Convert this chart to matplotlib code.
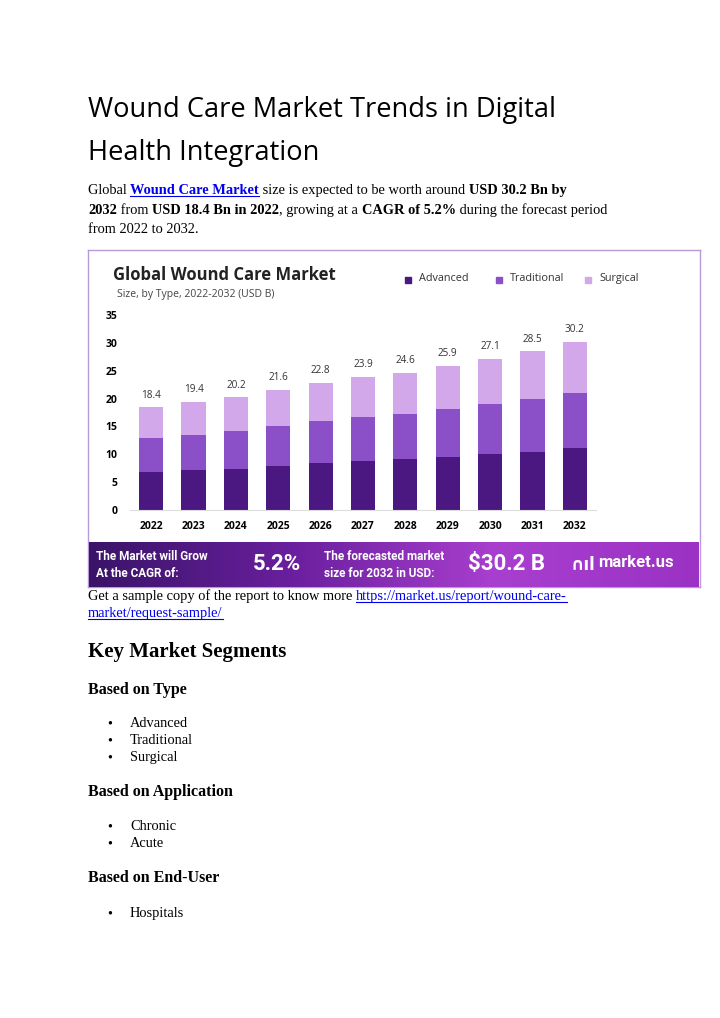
import numpy as np
import matplotlib
matplotlib.use("Agg")
import matplotlib.pyplot as plt
from matplotlib.colors import LinearSegmentedColormap

years = ["2022","2023","2024","2025","2026","2027","2028","2029","2030","2031","2032"]
totals = [18.4,19.4,20.2,21.6,22.8,23.9,24.6,25.9,27.1,28.5,30.2]
advanced = [6.75,7.2,7.4,7.95,8.4,8.8,9.1,9.55,10.0,10.5,11.2]
traditional = [6.1,6.35,6.75,7.1,7.5,7.9,8.1,8.55,8.95,9.4,9.85]
surgical = [t-a-b for t,a,b in zip(totals,advanced,traditional)]
series_names = ["Advanced","Traditional","Surgical"]
colors = ["#4b1780","#8b50c8","#d2a8ea"]
yticks = [0,5,10,15,20,25,30,35]

W, H = 720, 1018
fig = plt.figure(figsize=(W/100, H/100), dpi=100)
fig.patch.set_facecolor("white")

def px_axes(x0, y0, x1, y1):
    return fig.add_axes([x0/W, 1-y1/H, (x1-x0)/W, (y1-y0)/H])

renderer = fig.canvas.get_renderer()

def runs(x, y, parts, size=10.4, family="Liberation Serif"):
    cx = x
    for txt, st in parts:
        weight = "bold" if st in ("b", "blink") else "normal"
        col = "#0000ee" if "link" in st else "black"
        t = fig.text(cx/W, 1-y/H, txt, fontsize=size, family=family, weight=weight,
                     color=col, va="baseline", ha="left")
        bb = t.get_window_extent(renderer)
        if "link" in st:
            fig.add_artist(plt.Line2D([cx/W, (cx+bb.width)/W], [1-(y+2)/H]*2, color=col, lw=0.8))
        cx += bb.width

fig.text(88/W, 1-117/H, "Wound Care Market Trends in Digital", fontsize=19.6, family="Open Sans", va="baseline")
fig.text(88/W, 1-160/H, "Health Integration", fontsize=19.6, family="Open Sans", va="baseline")

runs(88, 194, [("Global ", ""), ("Wound Care Market", "blink"), (" size is expected to be worth around ", ""), ("USD 30.2 Bn by", "b")])
runs(88, 214, [("2032", "b"), (" from ", ""), ("USD 18.4 Bn in 2022", "b"), (", growing at a ", ""), ("CAGR of 5.2%", "b"), (" during the forecast period", "")])
runs(88, 233, [("from 2022 to 2032.", "")])

frame = px_axes(88, 250, 700, 587)
frame.set_xticks([]); frame.set_yticks([])
for s in frame.spines.values():
    s.set_color("#b79ad6"); s.set_linewidth(1)
frame.set_facecolor("white")

ban = px_axes(89, 542, 699, 587)
grad = np.linspace(0, 1, 256).reshape(1, -1)
cmap = LinearSegmentedColormap.from_list("g", ["#3a1468", "#6a1f9e", "#a93fcf", "#9b32c4"])
ban.imshow(grad, aspect="auto", cmap=cmap, extent=[0, 1, 0, 1])
ban.axis("off")
ban.text(0.012, 0.68, "The Market will Grow", color="white", fontsize=8.5, weight="bold", family="Roboto", va="center")
ban.text(0.012, 0.30, "At the CAGR of:", color="white", fontsize=8.5, weight="bold", family="Roboto", va="center")
ban.text(0.268, 0.50, "5.2%", color="white", fontsize=16, weight="bold", family="Roboto", va="center")
ban.text(0.385, 0.68, "The forecasted market", color="white", fontsize=8.5, weight="bold", family="Roboto", va="center")
ban.text(0.385, 0.30, "size for 2032 in USD:", color="white", fontsize=8.5, weight="bold", family="Roboto", va="center")
ban.text(0.622, 0.50, "$30.2 B", color="white", fontsize=16, weight="bold", family="Roboto", va="center")
ban.text(0.79, 0.50, "∩ıl", color="white", fontsize=12, weight="bold", family="DejaVu Sans", va="center")
ban.text(0.835, 0.55, "market.us", color="white", fontsize=12, weight="bold", family="Roboto", va="center")

fig.text(113/W, 1-280/H, "Global Wound Care Market", fontsize=12, weight="bold", family="Open Sans", color="#222222", va="baseline")
fig.text(117/W, 1-297/H, "Size, by Type, 2022-2032 (USD B)", fontsize=7.5, family="Open Sans", color="#444444", va="baseline")
for i, (nm, c) in enumerate(zip(series_names, colors)):
    lx = [405, 496, 585][i]
    fig.patches.append(plt.Rectangle((lx/W, 1-283/H), 6/W, 6/H, color=c, transform=fig.transFigure, figure=fig))
    fig.text((lx+14)/W, 1-284/H, nm, fontsize=7.8, family="Open Sans", color="#333333", va="bottom")

ax = px_axes(130, 315, 596, 510)
x = np.arange(len(years))
bw = 0.57
ax.bar(x, advanced, bw, color=colors[0])
ax.bar(x, traditional, bw, bottom=advanced, color=colors[1])
bot2 = [a+b for a, b in zip(advanced, traditional)]
ax.bar(x, surgical, bw, bottom=bot2, color=colors[2])
for xi, t in zip(x, totals):
    ax.text(xi, t+1.2, f"{t}", ha="center", va="bottom", fontsize=7.2, color="#333333", family="Open Sans")
ax.set_xlim(-0.5, 10.5)
ax.set_ylim(0, 35)
ax.set_yticks(yticks)
ax.set_yticklabels([str(v) for v in yticks], fontsize=7.5, weight="bold", family="Open Sans")
ax.set_xticks(x)
ax.set_xticklabels(years, fontsize=7.5, weight="bold", family="Open Sans")
ax.tick_params(length=0, pad=8)
ax.tick_params(axis="y", pad=9)
for s in ["top", "right", "left"]:
    ax.spines[s].set_visible(False)
ax.spines["bottom"].set_color("#dddddd")
ax.set_facecolor("none")

runs(88, 600, [("Get a sample copy of the report to know more ", ""), ("https://market.us/report/wound-care-", "link")])
runs(88, 617, [("market/request-sample/", "link")])

fig.text(88/W, 1-657/H, "Key Market Segments", fontsize=15, weight="bold", family="Liberation Serif", va="baseline")

def heading(y, s):
    fig.text(88/W, 1-y/H, s, fontsize=11.5, weight="bold", family="Liberation Serif", va="baseline")

def bullet(y, s):
    fig.text(107/W, 1-y/H, "•", fontsize=10.4, family="Liberation Serif", va="baseline")
    fig.text(130/W, 1-y/H, s, fontsize=10.4, family="Liberation Serif", va="baseline")

heading(694, "Based on Type")
bullet(727, "Advanced"); bullet(744, "Traditional"); bullet(761, "Surgical")
heading(796, "Based on Application")
bullet(830, "Chronic"); bullet(847, "Acute")
heading(882, "Based on End-User")
bullet(917, "Hospitals")

fig.savefig("out.png", dpi=100)
